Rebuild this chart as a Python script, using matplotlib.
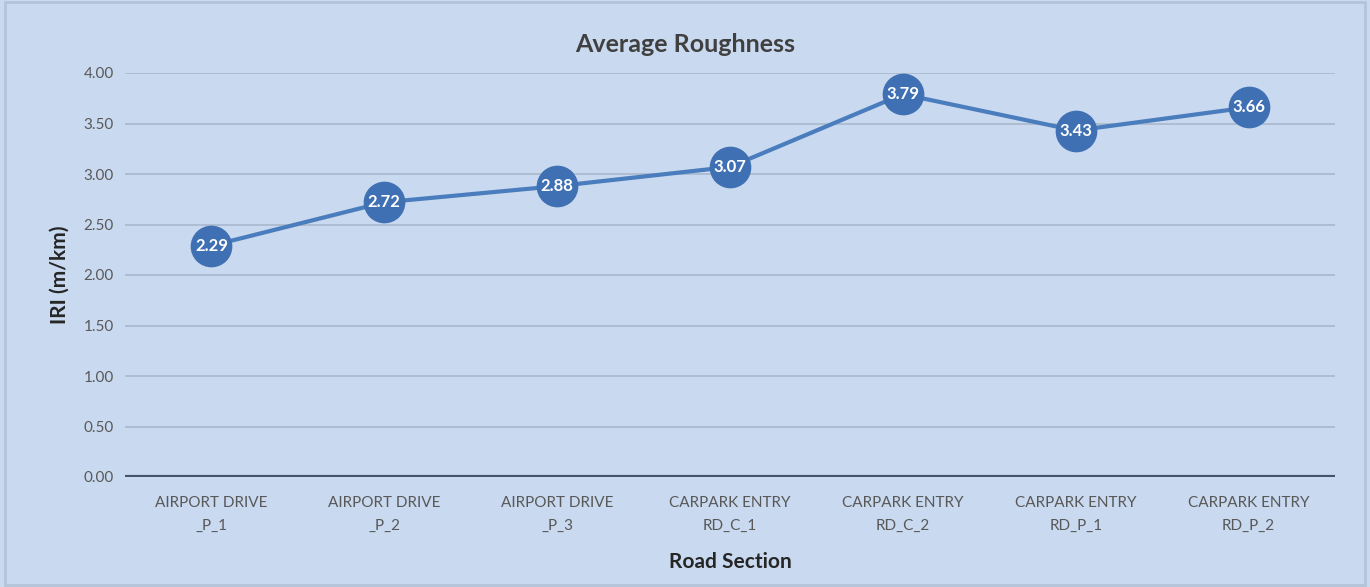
import matplotlib.pyplot as plt
import numpy as np

plt.rcParams['font.family'] = ['Lato', 'DejaVu Sans']

sections = ["AIRPORT DRIVE\n_P_1", "AIRPORT DRIVE\n_P_2", "AIRPORT DRIVE\n_P_3",
            "CARPARK ENTRY\nRD_C_1", "CARPARK ENTRY\nRD_C_2",
            "CARPARK ENTRY\nRD_P_1", "CARPARK ENTRY\nRD_P_2"]
iri = [2.29, 2.72, 2.88, 3.07, 3.79, 3.43, 3.66]
yticks = [0.0, 0.5, 1.0, 1.5, 2.0, 2.5, 3.0, 3.5, 4.0]

bg = '#c9d9ef'
line_col = '#4a7dbd'

fig = plt.figure(figsize=(13.7, 5.87), dpi=100, facecolor=bg)
ax = fig.add_axes([125 / 1370, 1 - 477 / 587, 1210 / 1370, 404 / 587])
ax.set_facecolor(bg)

x = np.arange(len(iri))
ax.plot(x, iri, color=line_col, lw=3, marker='o', ms=29,
        mfc='#3f70b3', mec='#3f70b3', zorder=3)
for xi, v in zip(x, iri):
    ax.text(xi, v, f"{v:.2f}", color='white', fontsize=12, fontweight='bold',
            ha='center', va='center', zorder=4)

ax.set_xlim(-0.5, len(iri) - 0.5)
ax.set_ylim(0, 4)
ax.set_yticks(yticks)
ax.set_yticklabels([f"{t:.2f}" for t in yticks], color='#595959', fontsize=11)
ax.set_xticks(x)
ax.set_xticklabels(sections, color='#595959', fontsize=11, linespacing=1.75)
ax.tick_params(axis='y', length=0, pad=8)
ax.tick_params(axis='x', length=0, pad=14)
ax.yaxis.grid(True, color='#a9b8cc', lw=1.2)
ax.set_axisbelow(True)
ax.axhline(0, color='#44546a', lw=3, zorder=2)
for s in ax.spines.values():
    s.set_visible(False)

ax.set_xlabel("Road Section", fontsize=15, fontweight='bold', color='#262626', labelpad=14)
ax.set_ylabel("IRI (m/km)", fontsize=15, fontweight='bold', color='#262626', labelpad=10)
fig.text(0.5, 1 - 45 / 587, "Average Roughness", fontsize=18, fontweight='bold',
         color='#404040', ha='center', va='center')

# thin frame round the whole chart
fig.patches.append(plt.Rectangle((0.004, 0.004), 0.992, 0.992, transform=fig.transFigure,
                                 fill=False, ec='#b4c3d8', lw=2))

fig.savefig("out.png", dpi=100, facecolor=bg)
